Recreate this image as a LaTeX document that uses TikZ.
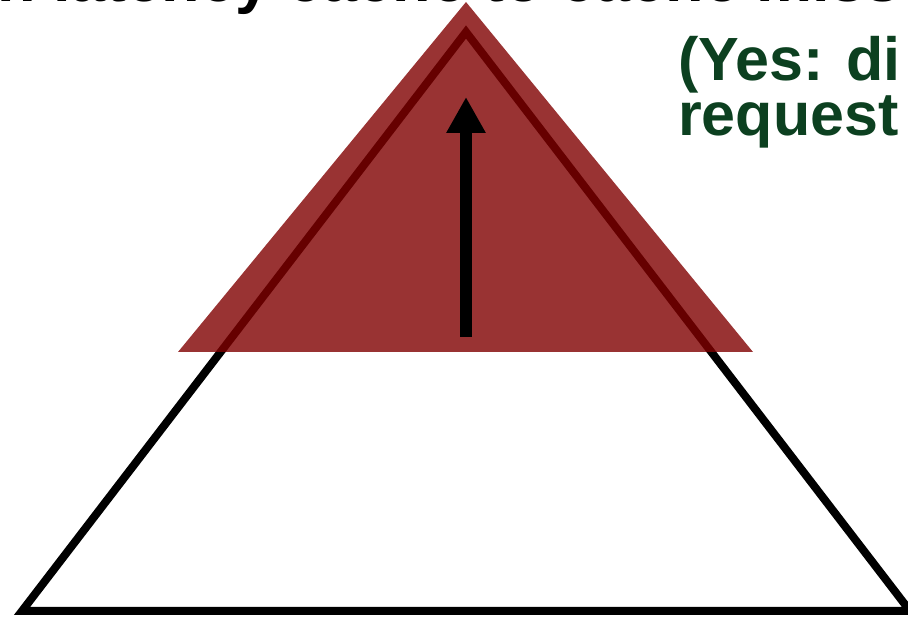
\documentclass[tikz,border=0pt]{standalone}
\usepackage{fontspec}
\setmainfont{Liberation Sans}
\usetikzlibrary{arrows.meta}

\definecolor{missred}{RGB}{128,0,0}
\definecolor{yesgreen}{RGB}{12,64,32}

\begin{document}
\begin{tikzpicture}[x=1pt,y=1pt,>=Latex,
    bigfont/.style={font=\fontsize{61}{55}\selectfont\bfseries,inner sep=0pt}]
  \clip (0,0) rectangle (908,620);
  \useasboundingbox (0,0) rectangle (908,620);

  % outline pyramid
  \coordinate (pl) at (22,9);
  \coordinate (pr) at (910,9);
  \coordinate (pt) at (466,588);
  \draw[line width=8pt,line join=miter] (pl) -- (pr) -- (pt) -- cycle;

  % red top part
  \coordinate (rl) at (178,268);
  \coordinate (rr) at (753,268);
  \coordinate (rt) at (466,618);
  \fill[missred,opacity=0.8] (rl) -- (rr) -- (rt) -- cycle;

  % arrow up
  \coordinate (atail) at (466,283);
  \coordinate (ahead) at (466,523);
  \draw[line width=12pt,-{Triangle[length=36pt,width=37pt]}] (atail) -- (ahead);

  \node[bigfont,font=\fontsize{63}{55}\selectfont\bfseries,anchor=base west] (title) at (-3,618) {n latency cache to cache miss};
  \node[bigfont,yesgreen,align=left,anchor=base west] (yes) at (678,484) {(Yes: di\\request};
\end{tikzpicture}
\end{document}
